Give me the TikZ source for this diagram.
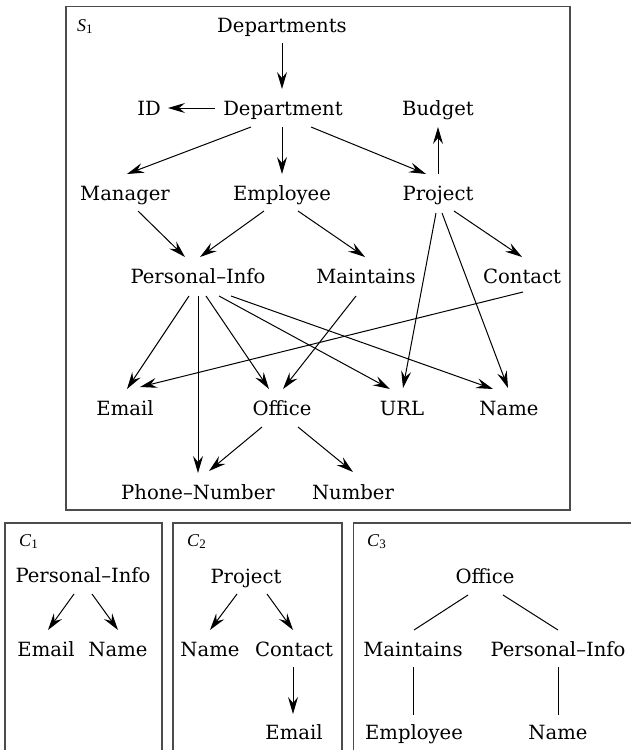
\documentclass[tikz,border=0pt]{standalone}
\usepackage{fontspec}
\setmainfont{DejaVu Serif}
\newfontfamily\labfam{Liberation Serif}
\usetikzlibrary{arrows.meta}
\newcommand{\nodefont}{\fontsize{19.6}{23}\selectfont}
\newcommand{\labfont}{\labfam\fontsize{18}{20}\selectfont}
\newcommand{\blab}[2]{\textit{#1}\raisebox{-0.15em}{\fontsize{13}{14}\selectfont #2}}
\begin{document}
\begin{tikzpicture}[x=1pt,y=-1pt,
  lbl/.style={anchor=base,inner sep=0pt,font=\nodefont},
  boxlbl/.style={anchor=base west,inner sep=0pt,font=\labfont},
  frame/.style={draw=black!70,line width=1.3pt},
  arr/.style={-{Stealth[length=17pt,width=10pt,inset=6pt]},line width=1pt},
  ln/.style={line width=1pt}]
\useasboundingbox (0,0) rectangle (631,750);
\clip (0,0) rectangle (631,750);
% frames
\draw[frame] (66,6.5) rectangle (570,510);
\draw[frame] (5,523) rectangle (162,760);
\draw[frame] (173,523) rectangle (342,760);
\draw[frame] (353.5,523) rectangle (640,760);
\node[boxlbl] (s1) at (77,31) {\blab{S}{1}};
\node[boxlbl] (c1) at (19,546) {\blab{C}{1}};
\node[boxlbl] (c2) at (187,546) {\blab{C}{2}};
\node[boxlbl] (c3) at (367,546) {\blab{C}{3}};
% S1 nodes
\node[lbl] (deps) at (282,32) {Departments};
\node[lbl] (dept) at (283,115) {Department};
\node[lbl] (id) at (149,115) {ID};
\node[lbl] (budget) at (438,115) {Budget};
\node[lbl] (mgr) at (125,200) {Manager};
\node[lbl] (emp) at (282,200) {Employee};
\node[lbl] (proj) at (438,200) {Project};
\node[lbl] (pinfo) at (198,283) {Personal–Info};
\node[lbl] (maint) at (366,283) {Maintains};
\node[lbl] (contact) at (522,283) {Contact};
\node[lbl] (email) at (125,415) {Email};
\node[lbl] (office) at (282,415) {Office};
\node[lbl] (url) at (402,415) {URL};
\node[lbl] (name) at (509,415) {Name};
\node[lbl] (phone) at (198,499) {Phone–Number};
\node[lbl] (number) at (353,499) {Number};
% S1 edges
\draw[arr] ([shift={(0,11)}]deps.base) -- ([shift={(-1,-26)}]dept.base);
\draw[arr] ([shift={(-68,-7)}]dept.base) -- ([shift={(19,-7)}]id.base);
\draw[arr] ([shift={(-32,12)}]dept.base) -- ([shift={(2,-26)}]mgr.base);
\draw[arr] ([shift={(-1,12)}]dept.base) -- ([shift={(0,-26)}]emp.base);
\draw[arr] ([shift={(28,12)}]dept.base) -- ([shift={(-12,-26)}]proj.base);
\draw[arr] ([shift={(0,-26)}]proj.base) -- ([shift={(0,12)}]budget.base);
\draw[arr] ([shift={(13,11)}]mgr.base) -- ([shift={(-13,-26)}]pinfo.base);
\draw[arr] ([shift={(-18,11)}]emp.base) -- ([shift={(2,-26)}]pinfo.base);
\draw[arr] ([shift={(16,11)}]emp.base) -- ([shift={(-1,-26)}]maint.base);
\draw[arr] ([shift={(-2,13)}]proj.base) -- ([shift={(1,-27)}]url.base);
\draw[arr] ([shift={(4,13)}]proj.base) -- ([shift={(-1,-27)}]name.base);
\draw[arr] ([shift={(16,11)}]proj.base) -- ([shift={(0,-26)}]contact.base);
\draw[arr] ([shift={(-9,13)}]pinfo.base) -- ([shift={(2,-26)}]email.base);
\draw[arr] ([shift={(0,13)}]pinfo.base) -- ([shift={(0,-26)}]phone.base);
\draw[arr] ([shift={(8,13)}]pinfo.base) -- ([shift={(-13,-26)}]office.base);
\draw[arr] ([shift={(21,13)}]pinfo.base) -- ([shift={(-12,-26)}]url.base);
\draw[arr] ([shift={(33,13)}]pinfo.base) -- ([shift={(-16,-26)}]name.base);
\draw[arr] ([shift={(-10,13)}]maint.base) -- ([shift={(1,-26)}]office.base);
\draw[arr] ([shift={(1,9)}]contact.base) -- ([shift={(15,-28)}]email.base);
\draw[arr] ([shift={(-20,12)}]office.base) -- ([shift={(11,-28)}]phone.base);
\draw[arr] ([shift={(16,12)}]office.base) -- ([shift={(0,-27)}]number.base);
% C1
\node[lbl] (pinfoa) at (83,582) {Personal–Info};
\node[lbl] (emaila) at (46,656) {Email};
\node[lbl] (namea) at (118,656) {Name};
\draw[arr] ([shift={(-9,12)}]pinfoa.base) -- ([shift={(2,-26)}]emaila.base);
\draw[arr] ([shift={(9,12)}]pinfoa.base) -- ([shift={(0,-26)}]namea.base);
% C2
\node[lbl] (projb) at (246,583) {Project};
\node[lbl] (nameb) at (210,656) {Name};
\node[lbl] (contactb) at (294,656) {Contact};
\node[lbl] (emailb) at (294,739) {Email};
\draw[arr] ([shift={(-9,11)}]projb.base) -- ([shift={(0,-26)}]nameb.base);
\draw[arr] ([shift={(21,11)}]projb.base) -- ([shift={(-1,-26)}]contactb.base);
\draw[arr] ([shift={(-1,11)}]contactb.base) -- ([shift={(-1,-25)}]emailb.base);
% C3
\node[lbl] (officec) at (485,583) {Office};
\node[lbl] (maintc) at (413,656) {Maintains};
\node[lbl] (pinfoc) at (558,656) {Personal–Info};
\node[lbl] (empc) at (414,739) {Employee};
\node[lbl] (namec) at (558,739) {Name};
\draw[ln] ([shift={(-17,12)}]officec.base) -- ([shift={(1,-26)}]maintc.base);
\draw[ln] ([shift={(18,12)}]officec.base) -- ([shift={(0,-26)}]pinfoc.base);
\draw[ln] ([shift={(0,11)}]maintc.base) -- ([shift={(-1,-24)}]empc.base);
\draw[ln] ([shift={(0,11)}]pinfoc.base) -- ([shift={(0,-24)}]namec.base);
\end{tikzpicture}
\end{document}
